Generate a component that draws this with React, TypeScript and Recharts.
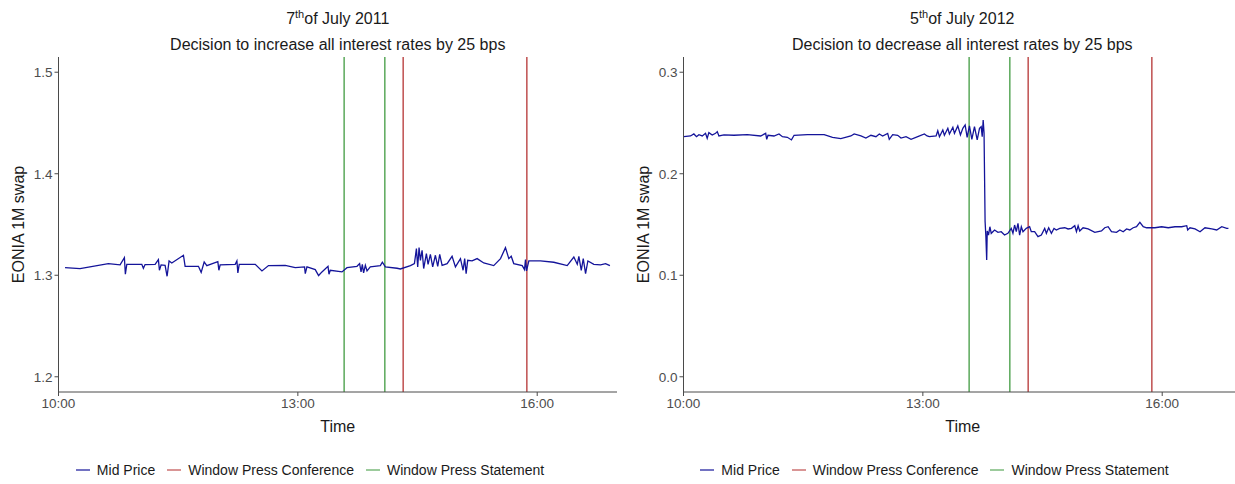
import { LineChart, Line, XAxis, YAxis, ReferenceLine } from 'recharts'

// time of day in decimal hours, EONIA 1M swap mid price
const july2011Time = [
  10.082, 10.27, 10.625, 10.772, 10.826, 10.838, 10.856, 11.044, 11.064, 11.085,
  11.211, 11.252, 11.265, 11.286, 11.336, 11.361, 11.386, 11.42, 11.566, 11.587,
  11.754, 11.788, 11.826, 11.859, 11.997, 12.01, 12.026, 12.215, 12.236, 12.248,
  12.265, 12.466, 12.55, 12.632, 12.842, 12.967, 13.084, 13.093, 13.114, 13.218,
  13.26, 13.302, 13.378, 13.39, 13.406, 13.553, 13.616, 13.741, 13.774, 13.792,
  13.808, 13.824, 13.846, 13.867, 13.908, 14.034, 14.059, 14.097, 14.243, 14.285,
  14.411, 14.461, 14.486, 14.502, 14.519, 14.536, 14.557, 14.577, 14.611, 14.632,
  14.661, 14.69, 14.724, 14.753, 14.778, 14.808, 14.871, 14.933, 14.975, 15.038,
  15.071, 15.091, 15.109, 15.129, 15.184, 15.247, 15.33, 15.455, 15.54, 15.602,
  15.644, 15.674, 15.706, 15.812, 15.841, 15.853, 15.866, 15.895, 16.041, 16.208,
  16.376, 16.459, 16.502, 16.522, 16.552, 16.577, 16.606, 16.635, 16.71, 16.794,
  16.857, 16.911,
]
const july2011Mid = [
  1.3075, 1.3066, 1.3115, 1.3102, 1.3174, 1.301, 1.3108, 1.3108, 1.3069, 1.3105,
  1.3108, 1.3154, 1.3049, 1.3102, 1.3098, 1.299, 1.3141, 1.3121, 1.3197, 1.3088,
  1.3088, 1.3029, 1.3131, 1.3095, 1.3134, 1.3049, 1.3102, 1.3108, 1.3141, 1.3023,
  1.3108, 1.3108, 1.3043, 1.3095, 1.3098, 1.3075, 1.3082, 1.3016, 1.3082, 1.3056,
  1.2997, 1.3033, 1.3088, 1.301, 1.3049, 1.3033, 1.3075, 1.3088, 1.3115, 1.3033,
  1.3108, 1.3023, 1.3098, 1.3043, 1.3082, 1.3095, 1.3128, 1.3082, 1.3069, 1.3062,
  1.3095, 1.3115, 1.3262, 1.3082, 1.3272, 1.3147, 1.3246, 1.3066, 1.3213, 1.3108,
  1.3206, 1.3082, 1.3197, 1.3088, 1.3206, 1.3098, 1.3115, 1.3187, 1.3082, 1.3164,
  1.3049, 1.3164, 1.3016, 1.3147, 1.3141, 1.3164, 1.3121, 1.3095, 1.3164, 1.3272,
  1.3164, 1.3187, 1.3115, 1.3095, 1.3056, 1.3154, 1.3043, 1.3141, 1.3141, 1.3128,
  1.3095, 1.318, 1.3108, 1.3187, 1.3049, 1.3164, 1.3016, 1.3141, 1.3108, 1.3102,
  1.3115, 1.3095,
]

const july2012Time = [
  10.004, 10.088, 10.13, 10.163, 10.193, 10.235, 10.276, 10.297, 10.318, 10.36,
  10.402, 10.423, 10.444, 10.507, 10.632, 10.8, 10.967, 11.03, 11.043, 11.059,
  11.134, 11.197, 11.24, 11.302, 11.353, 11.386, 11.554, 11.763, 11.868, 11.972,
  12.098, 12.139, 12.224, 12.286, 12.349, 12.412, 12.454, 12.496, 12.559, 12.579,
  12.622, 12.685, 12.726, 12.789, 12.852, 12.936, 13.019, 13.053, 13.082, 13.166,
  13.187, 13.208, 13.25, 13.27, 13.313, 13.333, 13.376, 13.396, 13.438, 13.471,
  13.501, 13.53, 13.555, 13.584, 13.614, 13.647, 13.681, 13.71, 13.731, 13.744,
  13.756, 13.767, 13.78, 13.79, 13.8, 13.807, 13.823, 13.84, 13.857, 13.899,
  13.941, 13.982, 14.024, 14.066, 14.108, 14.129, 14.15, 14.171, 14.192, 14.213,
  14.234, 14.255, 14.296, 14.338, 14.359, 14.401, 14.443, 14.485, 14.527, 14.548,
  14.577, 14.611, 14.644, 14.673, 14.715, 14.778, 14.82, 14.862, 14.904, 14.925,
  14.946, 14.966, 15.008, 15.071, 15.155, 15.239, 15.28, 15.322, 15.364, 15.427,
  15.469, 15.511, 15.553, 15.594, 15.636, 15.678, 15.72, 15.762, 15.804, 15.908,
  15.992, 16.076, 16.16, 16.244, 16.307, 16.319, 16.348, 16.411, 16.474, 16.536,
  16.621, 16.683, 16.746, 16.809, 16.83,
]
const july2012Mid = [
  0.2365, 0.2372, 0.2392, 0.2365, 0.2385, 0.2372, 0.2398, 0.2349, 0.2405, 0.2382,
  0.2398, 0.2415, 0.2372, 0.2382, 0.2379, 0.2385, 0.2372, 0.2398, 0.2339, 0.2379,
  0.2372, 0.2392, 0.2365, 0.2359, 0.2333, 0.2379, 0.2385, 0.2385, 0.2359, 0.2346,
  0.2372, 0.2392, 0.2372, 0.2352, 0.2379, 0.2365, 0.2392, 0.2372, 0.2398, 0.2339,
  0.2385, 0.2379, 0.2352, 0.2365, 0.2339, 0.2365, 0.2392, 0.2372, 0.2365, 0.2372,
  0.2424, 0.2365, 0.2431, 0.2379, 0.2448, 0.2392, 0.2458, 0.2398, 0.2471, 0.2382,
  0.2448, 0.2481, 0.2359, 0.2471, 0.2339, 0.2464, 0.2333, 0.2448, 0.2464, 0.2365,
  0.253, 0.24, 0.153, 0.138, 0.115, 0.1436, 0.1396, 0.1478, 0.1413, 0.1446,
  0.1423, 0.1429, 0.1396, 0.1413, 0.1462, 0.1413, 0.1495, 0.1429, 0.1512, 0.1396,
  0.1478, 0.1429, 0.1462, 0.1478, 0.1429, 0.1429, 0.138, 0.1396, 0.1462, 0.1413,
  0.1468, 0.1413, 0.1462, 0.1446, 0.1462, 0.1468, 0.1456, 0.1462, 0.1488, 0.1429,
  0.1488, 0.1436, 0.1468, 0.1456, 0.1423, 0.1436, 0.1468, 0.1478, 0.1429, 0.1423,
  0.1446, 0.1429, 0.1456, 0.1446, 0.1468, 0.1478, 0.1521, 0.1478, 0.1468, 0.1468,
  0.1478, 0.1468, 0.1478, 0.1478, 0.1488, 0.1446, 0.1468, 0.1456, 0.1429, 0.1468,
  0.1456, 0.1446, 0.1478, 0.1462, 0.1462,
]

const pressStatementWindow = [13.58, 14.09]
const pressConferenceWindow = [14.32, 15.87]
const timeTicks = [10, 13, 16]
const ticks2011 = [1.2, 1.3, 1.4, 1.5]
const ticks2012 = [0.0, 0.1, 0.2, 0.3]

const FONT = '"Liberation Sans", Arial, Helvetica, sans-serif'
const BLUE = '#14149a'
const RED = '#bf4f4f'
const GREEN = '#5aa85a'
const AXIS = '#4a4a4a'

const legendItems = [
  { name: 'Mid Price', color: BLUE },
  { name: 'Window Press Conference', color: RED },
  { name: 'Window Press Statement', color: GREEN },
]

function hourLabel(h: number) {
  return `${h}:00`
}

interface PanelProps {
  left: number
  dayNum: string
  dateRest: string
  subtitle: string
  times: number[]
  mid: number[]
  yDomain: [number, number]
  yTicks: number[]
}

function EventPanel({ left, dayNum, dateRest, subtitle, times, mid, yDomain, yTicks }: PanelProps) {
  const data = times.map((t, i) => ({ time: t, mid: mid[i] }))
  const titleStyle = {
    position: 'absolute' as const,
    left: 58.5,
    width: 558.5,
    textAlign: 'center' as const,
    fontFamily: FONT,
    fontSize: 16,
    lineHeight: '18px',
    color: '#1a1a1a',
    whiteSpace: 'nowrap' as const,
  }

  return (
    <div style={{ position: 'absolute', left, top: 0, width: 620, height: 484 }}>
      <LineChart width={620} height={484} data={data} margin={{ top: 57, right: 3, bottom: 48, left: 0 }}>
        <XAxis
          dataKey="time"
          type="number"
          domain={[10, 17]}
          ticks={timeTicks}
          tickFormatter={hourLabel}
          allowDataOverflow
          height={44}
          stroke={AXIS}
          tickSize={4}
          tick={{ fill: '#4d4d4d', fontSize: 13.5, fontFamily: FONT }}
          label={{ value: 'Time', position: 'insideBottom', offset: 4, fill: '#1a1a1a', fontSize: 16, fontFamily: FONT }}
        />
        <YAxis
          type="number"
          domain={yDomain}
          ticks={yTicks}
          tickFormatter={(v: number) => v.toFixed(1)}
          allowDataOverflow
          width={58.5}
          stroke={AXIS}
          tickSize={4}
          tick={{ fill: '#4d4d4d', fontSize: 13.5, fontFamily: FONT }}
          label={{
            value: 'EONIA 1M swap',
            angle: -90,
            position: 'insideLeft',
            offset: 18,
            fill: '#1a1a1a',
            fontSize: 16,
            fontFamily: FONT,
            style: { textAnchor: 'middle' },
          }}
        />
        {pressStatementWindow.map(t => (
          <ReferenceLine key={'s' + t} x={t} stroke={GREEN} strokeWidth={1.5} />
        ))}
        {pressConferenceWindow.map(t => (
          <ReferenceLine key={'c' + t} x={t} stroke={RED} strokeWidth={1.5} />
        ))}
        <Line
          type="linear"
          dataKey="mid"
          stroke={BLUE}
          strokeWidth={1.3}
          dot={false}
          isAnimationActive={false}
        />
      </LineChart>

      <div style={{ ...titleStyle, top: 10 }}>
        {dayNum}
        <sup style={{ fontSize: 11, lineHeight: 0, verticalAlign: '6px' }}>th</sup>
        {dateRest}
      </div>
      <div style={{ ...titleStyle, top: 36 }}>{subtitle}</div>

      <div style={{ position: 'absolute', left: 0, width: 620, top: 462, display: 'flex', justifyContent: 'center', alignItems: 'center', gap: 12, fontFamily: FONT, fontSize: 14, lineHeight: '16px', color: '#1a1a1a' }}>
        {legendItems.map(item => (
          <div key={item.name} style={{ display: 'flex', alignItems: 'center' }}>
            <span style={{ display: 'inline-block', width: 14, height: 1.5, background: item.color, opacity: 0.6, marginRight: 7 }} />
            <span>{item.name}</span>
          </div>
        ))}
      </div>
    </div>
  )
}

export default function App() {
  return (
    <div style={{ position: 'absolute', left: 0, top: 0, width: 1235, height: 484, overflow: 'hidden', background: '#fff' }}>
      <EventPanel
        left={0}
        dayNum="7"
        dateRest="of July 2011"
        subtitle="Decision to increase all interest rates by 25 bps"
        times={july2011Time}
        mid={july2011Mid}
        yDomain={[1.185, 1.515]}
        yTicks={ticks2011}
      />
      <EventPanel
        left={624.5}
        dayNum="5"
        dateRest="of July 2012"
        subtitle="Decision to decrease all interest rates by 25 bps"
        times={july2012Time}
        mid={july2012Mid}
        yDomain={[-0.015, 0.315]}
        yTicks={ticks2012}
      />
    </div>
  )
}
